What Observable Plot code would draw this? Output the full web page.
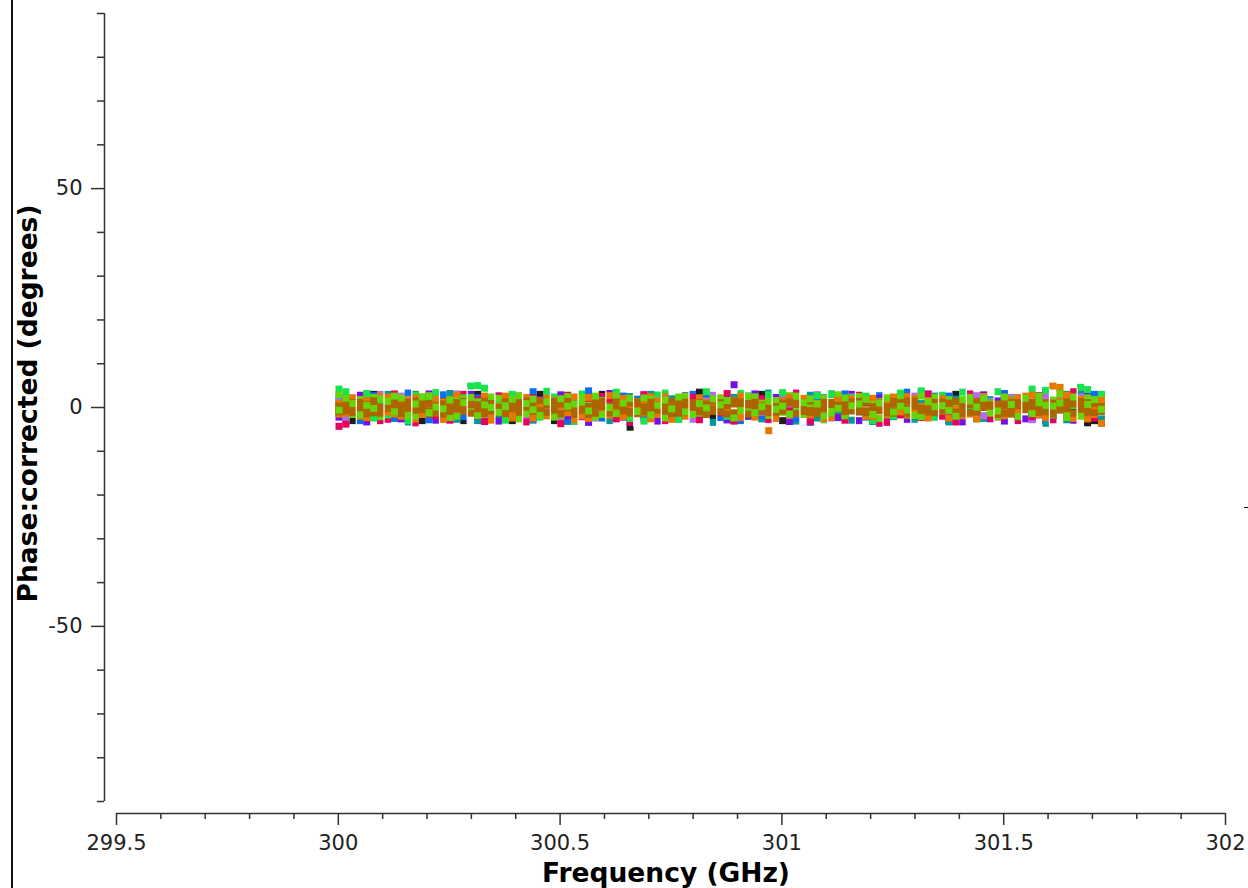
<!DOCTYPE html>
<html><head><meta charset="utf-8">
<script src="https://cdn.jsdelivr.net/npm/d3@7"></script>
<script src="https://cdn.jsdelivr.net/npm/@observablehq/plot@0.6"></script>
<style>
html,body{margin:0;padding:0;background:#fff;}
#wrap{position:relative;width:1248px;height:888px;overflow:hidden;background:#fff;}
#frameLine{position:absolute;left:11px;top:0;width:2px;height:888px;background:#111;}
#edgeDash{position:absolute;left:1244px;top:507px;width:4px;height:1px;background:#111;}
</style></head><body><div id="wrap"></div>
<script>
// Channel centre frequencies (GHz)
const channelFreqGHz = [
 300.0016,300.0172,300.0328,
 300.0484,300.0641,300.0797,300.0953, 300.1109,300.1266,300.1422,300.1578,
 300.1734,300.1891,300.2047,300.2203, 300.2359,300.2516,300.2672,300.2828,
 300.2984,300.3141,300.3297,300.3453, 300.3609,300.3766,300.3922,300.4078,
 300.4234,300.4391,300.4547,300.4703, 300.4859,300.5016,300.5172,300.5328,
 300.5484,300.5641,300.5797,300.5953, 300.6109,300.6266,300.6422,300.6578,
 300.6734,300.6891,300.7047,300.7203, 300.7359,300.7516,300.7672,300.7828,
 300.7984,300.8141,300.8297,300.8453, 300.8609,300.8766,300.8922,300.9078,
 300.9234,300.9391,300.9547,300.9703, 300.9859,301.0016,301.0172,301.0328,
 301.0484,301.0641,301.0797,301.0953, 301.1109,301.1266,301.1422,301.1578,
 301.1734,301.1891,301.2047,301.2203, 301.2359,301.2516,301.2672,301.2828,
 301.2984,301.3141,301.3297,301.3453, 301.3609,301.3766,301.3922,301.4078,
 301.4234,301.4391,301.4547,301.4703, 301.4859,301.5016,301.5172,301.5328,
 301.5484,301.5641,301.5797,301.5953, 301.6109,301.6266,301.6422,301.6578,
 301.6734,301.6891,301.7047,301.7203
];
// Boundaries between channel chunks (white gaps)
const chunkEdgesGHz = [300.0406,300.1031,300.1656,300.2281,300.2906,300.3531,300.4156,300.4781,
 300.5406,300.6031,300.6656,300.7281,300.7906,300.8531,300.9156,300.9781,301.0406,301.1031,
 301.1656,301.2281,301.2906,301.3531,301.4156,301.4781,301.5406,301.6031,301.6656];

const phaseBlack = [
 -1,2,-3,
 1,-2,3,0, -2,-1,2,1, 3,-3,0,-1, 2,1,-2,-3, 0,3,1,-1, -2,2,-3,1, 0,-1,3,2,
 -3,1,-1,0, 2,-2,1,3, -1,0,-2,-4.5, 1,2,-1,0, 3,-2,0,1, -1,3.5,2,-2, 0,1,-3,2,
 -2,0,3,-1, 1,-3,2,0, -1,2,1,-2, 3,0,-2,1, -1,2,-3,0, 2,-1,1,3, -2,0,-1,2,
 1,-3,3,-1, 0,2,-2,1, -1,3,0,-2, 2,-1,1,-3, -2,1,3,0, 1,-3.5,-3,-3.5
];
const phaseTeal = [
 0.8,-3.1,1.9,
 -2.4,2.6,-0.7,1.2, 3.0,-1.8,0.3,-3.3, 1.5,-0.4,2.8,-2.0, -1.1,3.2,-2.7,0.6,
 2.1,-3.0,1.0,-0.9, -2.5,0.2,2.4,-1.6, 1.7,-2.9,-0.3,3.1, -1.4,2.2,-3.2,0.9,
 2.7,-0.6,1.3,-2.3, -3.0,1.8,-1.0,2.5, 0.4,-2.6,3.0,-1.5, -0.8,2.0,-2.2,1.1,
 2.9,-1.2,0.5,-3.4, 1.4,-2.8,2.3,-0.2, -1.9,0.7,-2.6,3.3, 2.2,-0.5,1.6,-3.1,
 -1.3,2.8,-2.4,0.1, 3.1,-1.7,0.8,-2.9, -0.6,2.4,-3.2,1.5, 1.2,-2.1,2.9,-0.9,
 -2.7,0.9,-1.4,2.6, 0.3,-3.3,1.9,-1.1, 2.5,-0.7,-2.5,1.8, -1.6,3.0,0.6,-2.2,
 2.0,-1.3,2.7,-3.6, -0.4,1.6,-2.8,0.9, 3.2,-1.9,0.4,-2.6
];
const phaseBlue = [
 2.4,-1.2,0.5,
 -3.0,1.1,2.7,-0.8, 0.6,-2.5,1.9,3.3, -1.7,0.2,-2.8,1.4, 2.9,-0.9,0.8,-2.1,
 -0.3,2.2,-3.1,1.6, 1.0,-1.8,2.5,-0.4, -2.6,3.6,0.9,-1.3, 2.1,-0.7,-2.9,1.2,
 -1.5,3.8,0.3,-2.4, 0.7,-1.1,2.6,-3.2, 1.9,-2.0,0.4,2.8, -0.9,1.3,-2.7,0.1,
 3.0,-1.6,2.0,-0.5, -2.3,0.8,1.7,-3.0, 2.6,-0.2,-1.9,1.0, -1.1,2.9,0.6,-2.5,
 0.2,-3.4,1.5,2.3, -1.8,0.5,3.1,-0.7, 1.4,-2.2,0.0,2.7, -2.9,1.1,-0.6,3.5,
 0.9,-1.4,2.2,-2.0, -0.1,2.6,-3.1,1.3, 1.8,-0.8,0.4,-2.6, -2.1,3.2,1.0,-1.2,
 0.6,-2.7,2.4,3.9, -1.4,0.3,-2.3,1.7, 2.0,-1.0,3.0,-0.5
];
const phasePurple = [
 -2.2,1.5,-0.6,
 2.8,-3.3,0.4,1.9, -1.0,2.3,-2.6,0.7, 1.2,-0.3,3.1,-2.9, -1.6,0.9,2.4,-0.8,
 3.0,-2.0,-0.4,1.7, -3.1,1.2,0.3,2.6, 0.5,-2.4,1.8,-1.1, -0.7,2.9,-1.9,0.0,
 1.6,-3.4,2.1,-1.2, 3.2,0.6,-2.2,1.0, -1.4,2.5,-0.9,-3.1, 0.8,-1.7,1.4,2.7,
 -2.5,0.3,-0.5,2.2, 1.1,-2.8,5.2,-0.2, -1.8,3.1,0.7,-2.4, 2.3,-0.6,-3.2,1.5,
 -0.9,1.9,2.8,-1.6, 0.4,-2.3,1.1,3.0, -3.0,0.8,-1.2,2.1, 1.7,-0.4,2.5,-2.7,
 -1.1,3.3,-0.8,0.6, 2.4,-2.0,1.3,-3.3, -0.5,1.0,2.9,-1.5, 1.5,-3.1,0.2,2.2,
 -2.6,0.7,-1.7,3.4, 0.9,-0.1,2.3,-2.9, -1.3,2.6,0.1,1.8
];
const phaseLavender = [
 1.3,-2.7,2.2,
 -0.5,1.8,-2.1,3.0, 0.2,-1.3,2.6,-2.8, -1.9,2.4,0.6,-0.8, 1.1,-2.5,3.1,0.4,
 -1.2,0.9,-2.9,2.0, 2.7,-0.3,1.4,-1.7, -2.2,1.6,-0.9,2.9, 0.7,-2.6,1.0,-0.1,
 -1.5,2.3,-2.4,1.2, 2.5,-0.7,0.3,-2.0, -0.4,3.0,-1.6,0.9, 1.8,-2.3,2.1,-1.0,
 -2.7,0.5,1.5,2.8, 0.0,-1.4,-2.5,1.3, 2.2,0.8,-1.1,-2.8, -1.6,2.6,0.4,1.0,
 0.6,-2.1,2.9,-0.6, -2.4,1.2,-0.2,2.4, 1.9,-1.8,0.7,-2.9, -0.8,2.1,-1.5,1.6,
 2.6,-0.4,3.2,-2.2, -1.2,0.3,-2.6,0.8, 0.5,2.7,-1.9,1.4, -2.0,1.1,2.3,-0.9,
 1.7,-2.8,0.1,2.5, -0.6,1.9,-2.3,3.1, 2.4,-1.1,0.8,2.9
];
const phasePink = [
 -4.3,-3.8,1.2,
 2.0,-1.4,0.8,-3.0, -2.7,3.1,-0.6,1.5, -3.5,0.3,2.4,-1.9, 1.0,-2.9,-0.2,3.0,
 -0.9,1.7,-3.2,0.5, 2.6,-1.6,0.9,-2.4, -3.3,2.2,-1.0,1.4, 0.6,-3.7,2.8,-0.3,
 -2.1,1.2,-1.3,2.5, 1.9,-2.6,0.4,-3.4, -0.7,2.9,-2.2,1.1, -3.0,0.2,1.6,-1.5,
 2.3,-2.8,-0.4,0.9, -1.2,3.2,-3.1,1.8, 0.1,-1.9,2.0,-2.7, -2.5,1.4,-0.8,3.3,
 1.3,-3.2,0.7,-1.1, -1.8,2.6,-2.9,0.3, 2.8,-0.5,1.2,-3.6, -3.4,0.8,-1.7,2.1,
 0.9,-2.3,3.0,-0.2, -2.0,1.6,-3.3,1.0, 3.1,-1.0,0.5,-2.5, -0.3,2.4,-1.4,-3.0,
 1.5,-2.1,2.7,0.2, -2.8,0.6,-0.9,3.6, 0.4,2.1,-2.4,1.7
];
const phaseGreen = [
 4.2,3.6,-1.5,
 1.0,3.2,-2.4,0.6, -1.7,2.5,0.1,-3.0, 2.9,-0.8,1.8,3.4, -2.6,0.4,-1.2,2.2,
 4.9,5.0,4.4,-0.5, 1.6,-2.9,3.0,0.8, -0.2,1.3,-2.2,3.7, 2.4,-1.5,0.7,-3.2,
 3.1,0.2,-1.8,1.5, -0.9,3.5,2.0,-2.5, 1.2,-3.1,0.5,2.8, 3.3,-0.6,-2.7,1.0,
 -1.3,2.1,3.6,-0.1, 0.8,-2.0,1.7,3.2, 2.6,-1.1,-0.4,2.9, -2.3,3.4,1.1,0.0,
 1.9,-0.7,2.7,-2.8, 3.0,0.9,-1.6,2.3, -0.3,2.6,-3.0,1.4, 2.1,-1.9,3.3,0.5,
 -1.4,3.8,0.8,-2.2, 2.8,1.3,-0.9,3.5, 0.3,-2.6,2.5,1.1, 3.6,-0.5,1.9,-1.3,
 2.2,4.2,0.6,3.9, -1.7,4.5,2.9,0.4, 4.6,4.1,-0.8,3.0
];
const phaseOrangeA = [
 0.9,-1.3,2.2,
 -2.0,1.6,0.3,-0.9, 2.4,-1.5,1.1,0.0, -2.6,0.7,-0.4,1.9, 1.3,-2.2,2.8,-0.6,
 -1.0,0.5,1.8,-2.9, 0.2,2.6,-1.7,1.0, -0.5,-2.4,0.9,2.1, 1.6,0.1,-1.2,-2.8,
 -1.9,2.3,0.6,1.2, 2.7,-0.8,-2.1,0.4, -0.2,1.4,2.5,-1.6, 1.1,-2.7,0.0,2.0,
 -1.4,0.8,-0.7,1.7, 2.2,-1.1,1.3,-2.3, 0.5,2.4,-0.3,-5.3, -2.5,1.5,-1.8,0.7,
 1.8,-0.1,0.9,-2.6, -0.6,2.7,-1.3,1.1, 0.3,-2.0,2.1,-0.8, -1.7,0.6,1.5,2.5,
 2.0,-1.5,-2.4,0.2, -0.9,1.2,0.4,-1.9, 1.4,-2.6,2.3,0.8, -2.2,0.0,1.7,-1.0,
 0.7,2.8,1.0,-0.6, 4.9,4.6,2.6,-2.5, 1.9,0.3,-1.6,-3.6
];
const phaseBrownA = [
 0.3,-0.8,1.1,
 -0.4,0.7,-1.2,0.1, 1.3,-0.2,0.5,-1.0, -0.6,1.0,-1.5,0.4, 0.8,-0.9,0.2,1.4,
 -1.3,0.6,-0.1,0.9, 0.0,-1.4,1.2,-0.5, 1.5,0.3,-0.7,-1.1, -0.3,1.1,0.6,-1.6,
 0.7,-0.5,1.3,0.2, -1.2,0.4,-0.3,1.0, 0.9,-1.0,0.1,-0.6, -0.8,1.4,-1.3,0.5,
 1.1,0.0,0.8,-0.9, -0.4,-1.5,1.6,0.3, 0.6,0.9,-0.2,-1.2, -1.1,0.2,1.0,0.7,
 0.4,-0.7,-1.4,1.2, 1.2,0.5,0.3,-0.3, -0.9,1.3,-0.6,0.0, 0.2,-1.3,0.9,1.5,
 1.0,-0.2,-1.0,-0.5, -0.5,0.8,1.4,-1.4, 0.7,-1.1,0.0,0.6, -1.6,0.4,-0.8,1.1,
 0.5,1.2,-0.4,-1.0, -0.2,-0.6,1.3,0.8, 1.4,0.1,-1.2,0.2
];
const phaseBrownB = [
 -1.0,0.5,-0.3,
 1.2,-1.4,0.8,-0.6, -0.2,1.0,-1.1,0.4, 1.5,-0.5,0.9,-1.3, -0.7,1.3,-0.4,0.0,
 0.6,-1.1,1.4,-0.8, -1.2,0.9,-0.3,1.1, 0.1,-0.9,1.6,0.5, 1.3,-1.5,-0.1,0.8,
 -0.6,0.2,-1.3,1.4, 0.4,1.1,0.7,-0.9, -1.4,-0.2,1.2,0.3, 0.9,0.6,-0.7,-1.2,
 -0.3,-1.0,0.4,1.5, 1.1,0.7,-1.2,-0.1, -1.5,1.2,0.3,0.8, 0.2,-0.8,-1.4,1.0,
 -0.9,1.5,0.6,-0.4, 0.7,-0.3,-0.9,1.3, 1.4,-1.2,0.2,-0.7, -0.4,0.8,1.1,-1.5,
 0.3,-0.6,-0.2,1.2, 1.2,1.0,-1.1,0.1, -1.1,-0.4,0.9,-0.8, 0.8,1.3,-1.5,0.4,
 -0.5,-0.9,0.5,1.1, 1.0,0.4,-0.6,-1.3, -0.7,1.1,0.9,-0.2
];
const phaseBrownC = [
 0.1,1.4,-1.2,
 -0.9,0.2,1.5,-1.3, 0.6,-0.7,-1.4,1.2, 0.0,1.6,-0.8,0.3, -1.5,0.5,1.1,-0.9,
 1.0,-0.3,-1.4,0.2, -0.6,1.3,0.7,-1.0, 1.2,-0.1,-1.3,0.9, -1.1,0.8,1.4,-0.4,
 0.4,-1.6,0.3,0.7, -0.5,1.2,-0.8,-1.3, 1.3,0.1,-1.0,0.6, -0.2,-1.4,0.9,1.2,
 0.8,1.1,-1.6,-0.3, -1.0,0.4,0.8,1.3, 1.4,-0.6,-0.9,0.1, -0.3,1.0,1.3,-1.4,
 1.1,-1.2,0.0,0.6, -1.4,0.3,1.5,-0.8, 0.5,-0.9,-1.1,1.1, -1.2,1.4,0.4,-0.1,
 1.5,-0.7,0.6,-1.2, -0.8,0.2,-1.5,0.9, 0.9,1.4,0.3,-0.6, -0.1,-1.3,1.2,0.7,
 1.3,0.6,-1.1,-0.4, -1.5,0.9,0.2,1.4, 0.6,-1.2,1.0,-0.9
];
const phaseLimeA = [
 2.9,0.4,-1.6,
 1.8,-0.7,2.3,-2.1, 0.9,2.6,-1.2,0.3, -1.9,1.1,2.7,-0.4, 0.6,-2.3,1.5,2.0,
 -0.8,1.3,-1.5,2.4, 2.1,-0.2,0.8,-2.6, -1.4,1.9,0.0,1.2, 0.7,-1.8,2.5,-0.9,
 2.2,0.5,-2.2,1.6, -1.0,2.8,0.2,-1.5, 1.4,-0.6,1.9,0.9, -2.4,0.1,1.2,2.6,
 0.4,-1.3,-0.5,1.7, 2.0,0.8,-2.0,-0.1, -0.7,2.4,1.0,-1.8, 1.6,-1.1,2.7,0.3,
 -1.6,0.6,-0.3,2.2, 0.2,2.9,-1.9,1.1, 2.5,-0.4,0.7,-2.5, -1.2,1.5,2.1,0.0,
 1.0,-2.1,-0.8,2.3, -0.5,1.8,0.5,-1.4, 2.3,-0.9,1.4,0.8, -2.0,2.0,-1.1,1.5,
 0.9,-0.3,2.6,-1.7, 1.7,3.1,-2.3,0.6, -1.0,2.2,0.4,1.9
];
const phaseOrangeB = [
 -1.5,1.0,0.2,
 0.6,-2.3,1.4,2.5, -1.1,0.3,-2.0,1.7, 2.2,-1.6,0.4,-0.8, -2.7,1.8,-0.5,0.9,
 1.5,-0.2,2.6,-1.4, -0.9,2.0,-2.4,0.1, 2.3,-1.0,0.7,-1.9, -0.4,1.3,-0.9,2.4,
 1.0,-2.5,1.9,-0.3, -1.8,0.4,2.1,-1.1, 0.7,-1.3,-2.6,1.5, 2.5,0.9,-0.2,-2.0,
 -1.2,2.2,1.1,0.3, 0.0,-0.8,-1.7,2.6, 1.9,-2.2,0.6,-1.0, -0.6,0.8,2.3,1.2,
 2.1,-1.7,-0.7,-0.2, -2.3,1.6,0.9,2.0, 0.5,-0.6,-2.1,1.3, 1.7,2.4,-1.0,-1.8,
 -0.9,0.2,1.6,0.7, 2.0,-2.4,-0.4,1.0, -1.5,1.1,2.5,-0.6, 0.4,-1.9,0.0,2.2,
 2.6,0.5,-1.6,-2.3, -0.3,1.4,2.8,0.9, 1.2,-2.6,-0.5,1.6
];
const phaseLimeB = [
 -0.6,2.1,0.9,
 -1.7,0.5,-0.2,2.0, 1.4,-1.0,2.2,-1.8, 0.8,2.4,-1.2,0.1, -0.3,1.7,-2.0,1.1,
 2.3,-1.9,0.6,0.0, -1.1,0.4,1.9,2.7, 0.9,-0.5,-1.8,1.3, -2.2,2.0,0.3,0.8,
 1.2,-0.8,2.6,-1.6, 0.0,-1.4,1.0,2.1, -0.9,2.2,-1.7,0.5, 1.7,-0.3,2.4,-1.0,
 -1.6,0.9,-0.1,2.0, 0.6,1.6,-2.4,-0.7, 2.5,-1.2,0.2,1.4, -0.4,0.3,-1.5,2.6,
 1.1,2.0,0.8,-1.9, -1.3,-0.2,2.2,0.4, 0.8,1.9,-1.6,1.0, 2.2,-1.0,0.3,-0.6,
 -1.8,2.6,1.3,0.2, 0.4,-0.7,-2.0,1.8, 1.5,0.1,2.1,-1.3, -0.8,2.4,0.7,-2.1,
 2.1,-1.4,1.1,0.5, 0.3,1.0,-1.9,2.4, -2.0,0.7,1.8,-0.4
];

// Series in drawing order, with their colours
const seriesNames  = ["black","teal","blue","purple","lavender","pink","green","orangeA","limeA","orangeB","brownA","brownB","brownC","limeB"];
const seriesColors = ["#1c1c1c","#00979d","#0a6cf5","#7410e6","#b26ee6","#e8005f","#16e34e","#e67800","#68d40a","#e67800","#ae6400","#ae6400","#ae6400","#68d40a"];
const seriesValues = [phaseBlack,phaseTeal,phaseBlue,phasePurple,phaseLavender,phasePink,phaseGreen,phaseOrangeA,phaseLimeA,phaseOrangeB,phaseBrownA,phaseBrownB,phaseBrownC,phaseLimeB];

const xMajorTicks = [299.5,300,300.5,301,301.5,302];
const xTickLabels = ["299.5","300","300.5","301","301.5","302"];
const xMinorTicks = [299.6,299.7,299.8,299.9,300.1,300.2,300.3,300.4,300.6,300.7,300.8,300.9,301.1,301.2,301.3,301.4,301.6,301.7,301.8,301.9];
const yMajorTicks = [-50,0,50];
const yTickLabels = ["-50","0","50"];
const yMinorTicks = [-90,-80,-70,-60,-40,-30,-20,-10,10,20,30,40,60,70,80,90];
const xDomain = [299.5,302];
const yDomain = [-90,90];
const xTitle = "Frequency (GHz)";
const yTitle = "Phase:corrected (degrees)";

const rows = [];
seriesValues.forEach((vals, s) => {
  vals.forEach((v, i) => {
    if (channelFreqGHz[i] !== undefined) rows.push({freq: channelFreqGHz[i], phase: v, color: seriesColors[s], series: seriesNames[s]});
  });
});
const lo = d3.min(rows, d => d.phase), hi = d3.max(rows, d => d.phase);

const axisColor = "#333";
const textColor = "#222";
const chart = Plot.plot({
  width: 1248, height: 888,
  marginLeft: 116, marginRight: 23, marginTop: 13, marginBottom: 87,
  x: {domain: xDomain, axis: null},
  y: {domain: yDomain, axis: null},
  color: {type: "identity"},
  style: {fontFamily: "'DejaVu Sans', sans-serif", background: "white", overflow: "visible"},
  marks: [
    Plot.dot(rows, {x: "freq", y: "phase", fill: "color", symbol: "square", r: 3.95, stroke: "none"}),
    Plot.ruleX(chunkEdgesGHz, {y1: lo, y2: hi, stroke: "white", strokeWidth: 1.2, insetTop: -4, insetBottom: -4}),
    // y axis
    Plot.ruleX([xDomain[0]], {y1: yDomain[0], y2: yDomain[1], dx: -12, stroke: axisColor, strokeWidth: 1.5}),
    Plot.axisY(yMinorTicks, {anchor: "left", tickSize: 7, text: null, dx: -12, stroke: axisColor, strokeWidth: 1.5, label: null}),
    Plot.axisY(yMajorTicks, {anchor: "left", tickSize: 13, tickPadding: 9, dx: -12, stroke: axisColor, strokeWidth: 1.5, fill: textColor, fontSize: 21, label: null,
      tickFormat: d => yTickLabels[yMajorTicks.indexOf(d)]}),
    // x axis
    Plot.ruleY([yDomain[0]], {x1: xDomain[0], x2: xDomain[1], dy: 12, stroke: axisColor, strokeWidth: 1.5}),
    Plot.axisX(xMinorTicks, {anchor: "bottom", tickSize: 6, text: null, dy: 12, stroke: axisColor, strokeWidth: 1.5, label: null}),
    Plot.axisX(xMajorTicks, {anchor: "bottom", tickSize: 12, tickPadding: 10, dy: 12, stroke: axisColor, strokeWidth: 1.5, fill: textColor, fontSize: 21, label: null,
      tickFormat: d => xTickLabels[xMajorTicks.indexOf(d)]}),
    // titles
    Plot.text([xTitle], {text: d => d, frameAnchor: "bottom", lineAnchor: "middle", textAnchor: "middle", dy: 72, dx: -5, fontSize: 26.5, fontWeight: "bold", fill: "#000"}),
    Plot.text([yTitle], {text: d => d, frameAnchor: "left", lineAnchor: "middle", textAnchor: "middle", rotate: -90, dx: -88, dy: -4, fontSize: 26.5, fontWeight: "bold", fill: "#000"})
  ]
});
const wrap = document.getElementById("wrap");
wrap.appendChild(chart);
const fl = document.createElement("div"); fl.id = "frameLine"; wrap.appendChild(fl);
const ed = document.createElement("div"); ed.id = "edgeDash"; wrap.appendChild(ed);
</script>
</body></html>
